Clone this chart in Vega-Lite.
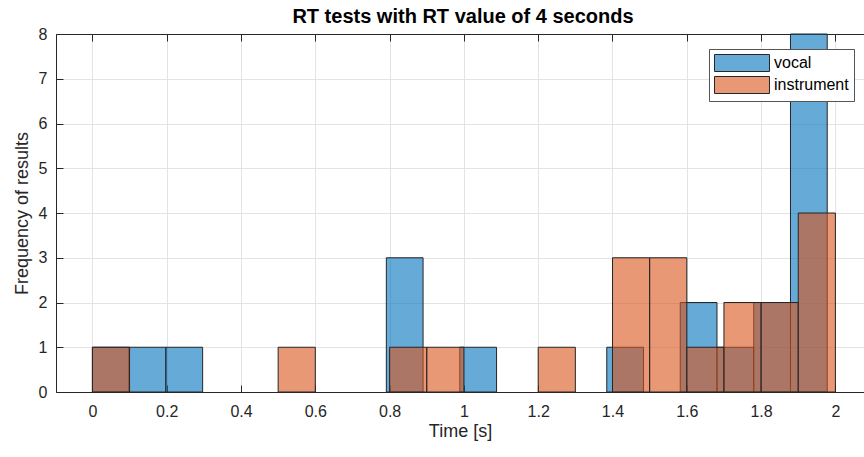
{
  "$schema": "https://vega.github.io/schema/vega-lite/v6.json",
  "width": 808,
  "height": 358,
  "autosize": {"type": "none"},
  "padding": {"left": 56, "top": 34, "right": 0, "bottom": 65},
  "background": "white",
  "title": {"text": "RT tests with RT value of 4 seconds", "fontSize": 20, "fontWeight": "bold", "color": "#000000", "font": "Liberation Sans", "anchor": "middle", "frame": "group", "offset": 9, "baseline": "alphabetic", "dx": 3, "dy": 26},
  "config": {
    "view": {"stroke": null},
    "font": "Liberation Sans",
    "axis": {"domainColor": "#262626", "tickColor": "#262626", "labelColor": "#262626", "titleColor": "#262626", "gridColor": "#e3e3e3", "domainWidth": 1, "tickWidth": 1, "labelFontSize": 16, "titleFontSize": 18, "titleFontWeight": "normal", "labelFont": "Liberation Sans", "titleFont": "Liberation Sans"}
  },
  "data": {"values": [
    {"series": "vocal", "start": 0.0, "end": 0.0989, "count": 1},
    {"series": "vocal", "start": 0.0989, "end": 0.1978, "count": 1},
    {"series": "vocal", "start": 0.1978, "end": 0.2967, "count": 1},
    {"series": "vocal", "start": 0.7912, "end": 0.8901, "count": 3},
    {"series": "vocal", "start": 0.989, "end": 1.0879, "count": 1},
    {"series": "vocal", "start": 1.3846, "end": 1.4835, "count": 1},
    {"series": "vocal", "start": 1.5824, "end": 1.6813, "count": 2},
    {"series": "vocal", "start": 1.6813, "end": 1.7802, "count": 1},
    {"series": "vocal", "start": 1.7802, "end": 1.8791, "count": 2},
    {"series": "vocal", "start": 1.8791, "end": 1.978, "count": 8},
    {"series": "instrument", "start": 0.0, "end": 0.1, "count": 1},
    {"series": "instrument", "start": 0.5, "end": 0.6, "count": 1},
    {"series": "instrument", "start": 0.8, "end": 0.9, "count": 1},
    {"series": "instrument", "start": 0.9, "end": 1.0, "count": 1},
    {"series": "instrument", "start": 1.2, "end": 1.3, "count": 1},
    {"series": "instrument", "start": 1.4, "end": 1.5, "count": 3},
    {"series": "instrument", "start": 1.5, "end": 1.6, "count": 3},
    {"series": "instrument", "start": 1.6, "end": 1.7, "count": 1},
    {"series": "instrument", "start": 1.7, "end": 1.8, "count": 2},
    {"series": "instrument", "start": 1.8, "end": 1.9, "count": 2},
    {"series": "instrument", "start": 1.9, "end": 2.0, "count": 4}
  ]},
  "resolve": {"axis": {"x": "independent"}},
  "layer": [
    {
      "mark": {"type": "bar", "fillOpacity": 0.6, "stroke": "#262626", "strokeWidth": 1},
      "encoding": {
        "x": {"field": "start", "type": "quantitative", "scale": {"domain": [-0.098, 2.077], "nice": false, "zero": false},
          "axis": {"orient": "bottom", "values": [0, 0.2, 0.4, 0.6, 0.8, 1, 1.2, 1.4, 1.6, 1.8, 2], "format": "~g", "tickSize": -7, "labelPadding": 18, "grid": true, "title": "Time [s]", "titlePadding": 3}},
        "x2": {"field": "end"},
        "y": {"field": "count", "type": "quantitative", "stack": null, "scale": {"domain": [0, 8], "nice": false},
          "axis": {"values": [0, 1, 2, 3, 4, 5, 6, 7, 8], "tickSize": -7, "labelPadding": 16, "grid": true, "title": "Frequency of results", "titlePadding": 7}},
        "y2": {"datum": 0},
        "color": {"field": "series", "type": "nominal", "scale": {"domain": ["vocal", "instrument"], "range": ["#0072BD", "#D95319"]},
          "legend": {"title": null, "orient": "none", "legendX": 653, "legendY": 15, "direction": "vertical", "padding": 5, "rowPadding": 0, "fillColor": "white", "strokeColor": "#555555", "symbolType": "M-1,-1H5.47V1H-1Z", "symbolSize": 289, "symbolStrokeColor": "#262626", "symbolStrokeWidth": 1, "labelOffset": 42, "labelFontSize": 16, "labelColor": "#000000", "labelFont": "Liberation Sans",
            "encode": {"symbols": {"update": {"fillOpacity": {"value": 0.6}, "strokeOpacity": {"value": 1}, "opacity": {"value": 1}}}}}}
      }
    },
    {
      "mark": {"type": "point", "opacity": 0},
      "encoding": {
        "x": {"field": "start", "type": "quantitative", "axis": {"orient": "top", "values": [0, 0.2, 0.4, 0.6, 0.8, 1, 1.2, 1.4, 1.6, 1.8, 2], "labels": false, "tickSize": -7, "grid": false, "title": null, "minExtent": 0, "maxExtent": 0}},
        "y": {"field": "count", "type": "quantitative",
          "axis": {"values": [0, 1, 2, 3, 4, 5, 6, 7, 8], "tickSize": -7, "labelPadding": 16, "grid": true, "title": "Frequency of results", "titlePadding": 7}}
      }
    }
  ]
}
